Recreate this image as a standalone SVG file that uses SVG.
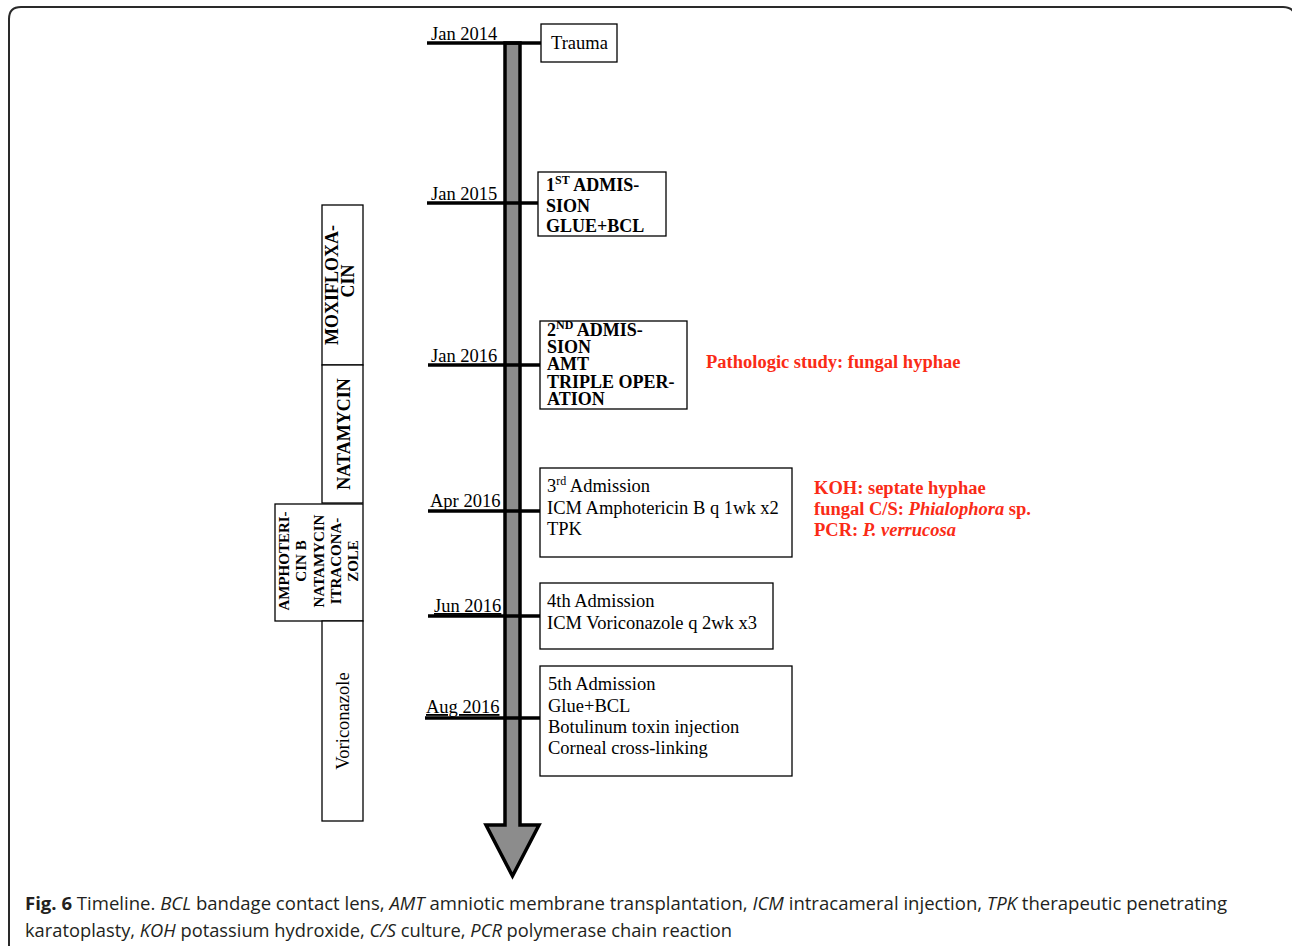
<svg xmlns="http://www.w3.org/2000/svg" width="1292" height="946" viewBox="0 0 1292 946">
<style>
.t{font-family:"Liberation Serif","Times New Roman",serif;font-size:18.5px;fill:#000}
.b{font-weight:bold;font-size:18px}
.r{fill:#fa2b16;font-weight:bold;font-size:18.5px}
.box{fill:#fff;stroke:#000;stroke-width:1.3}
.tick{stroke:#000;stroke-width:3.3;fill:none}
.cap{font-family:"Open Sans","Noto Sans",sans-serif;font-size:18px;fill:#231f20}
</style>
<rect width="1292" height="946" fill="#fff"/>
<path d="M9,946 V19 Q9,7 21,7 H1283 Q1295,7 1295,19 V946" fill="none" stroke="#2a2a2a" stroke-width="2"/>

<g id="connectors">
<polygon points="505,43 520,43 520,825 539,825 512.5,876 486,825 505,825" fill="#8c8c8c" stroke="#000" stroke-width="3.5" stroke-linejoin="miter"/>
<line class="tick" x1="427" y1="43" x2="541" y2="43"/>
<line class="tick" x1="427" y1="203" x2="538" y2="203"/>
<line class="tick" x1="428" y1="365" x2="540" y2="365"/>
<line class="tick" x1="428" y1="511" x2="540" y2="511"/>
<line class="tick" x1="428" y1="616" x2="540" y2="616"/>
<line class="tick" x1="425" y1="718" x2="540" y2="718"/>
</g>

<g id="dates">
<text class="t" x="431" y="40">Jan 2014</text>
<text class="t" x="431" y="200">Jan 2015</text>
<text class="t" x="431" y="362">Jan 2016</text>
<text class="t" x="430" y="507">Apr 2016</text>
<text class="t" x="434" y="612" text-decoration="underline">Jun 2016</text>
<text class="t" x="426" y="713" text-decoration="underline">Aug 2016</text>
</g>

<g id="n-trauma">
<rect class="box" x="541" y="24" width="76" height="38"/>
<text class="t" x="551" y="49">Trauma</text>
</g>

<g id="n-adm1">
<rect class="box" x="538" y="172" width="128" height="64"/>
<text class="t b" x="546" y="191">1<tspan font-size="12" dy="-7">ST</tspan><tspan dy="7"> ADMIS-</tspan></text>
<text class="t b" x="546" y="211.5">SION</text>
<text class="t b" x="546" y="232">GLUE+BCL</text>
</g>

<g id="n-adm2">
<rect class="box" x="540" y="321" width="147" height="88"/>
<text class="t b" x="547" y="336">2<tspan font-size="12" dy="-7">ND</tspan><tspan dy="7"> ADMIS-</tspan></text>
<text class="t b" x="547" y="353">SION</text>
<text class="t b" x="547" y="370">AMT</text>
<text class="t b" x="547" y="387.5">TRIPLE OPER-</text>
<text class="t b" x="547" y="405">ATION</text>
</g>

<g id="n-path">
<text class="t r" x="706" y="368">Pathologic study: fungal hyphae</text>
</g>

<g id="n-adm3">
<rect class="box" x="540" y="468" width="252" height="89"/>
<text class="t" x="547" y="492">3<tspan font-size="12" dy="-7">rd</tspan><tspan dy="7"> Admission</tspan></text>
<text class="t" x="547" y="513.5">ICM Amphotericin B q 1wk x2</text>
<text class="t" x="547" y="535">TPK</text>
</g>

<g id="n-koh">
<text class="t r" x="814" y="494">KOH: septate hyphae</text>
<text class="t r" x="814" y="515">fungal C/S: <tspan font-style="italic">Phialophora</tspan> sp.</text>
<text class="t r" x="814" y="536">PCR: <tspan font-style="italic">P. verrucosa</tspan></text>
</g>

<g id="n-adm4">
<rect class="box" x="540" y="583" width="233" height="66"/>
<text class="t" x="547" y="607">4th Admission</text>
<text class="t" x="547" y="629">ICM Voriconazole q 2wk x3</text>
</g>

<g id="n-adm5">
<rect class="box" x="540" y="666" width="252" height="110"/>
<text class="t" x="548" y="690">5th Admission</text>
<text class="t" x="548" y="711.5">Glue+BCL</text>
<text class="t" x="548" y="732.5">Botulinum toxin injection</text>
<text class="t" x="548" y="753.5">Corneal cross-linking</text>
</g>

<g id="n-moxi">
<rect class="box" x="322" y="205" width="41" height="160"/>
<text class="t b" text-anchor="middle" transform="translate(338,285) rotate(-90)">MOXIFLOXA-</text>
<text class="t b" text-anchor="middle" transform="translate(354,281) rotate(-90)">CIN</text>
</g>

<g id="n-nata">
<rect class="box" x="322" y="365" width="41" height="138"/>
<text class="t b" text-anchor="middle" transform="translate(349.5,434) rotate(-90)">NATAMYCIN</text>
</g>

<g id="n-ampho">
<rect class="box" x="275" y="504" width="88" height="117"/>
<g class="t b" style="font-size:15px" text-anchor="middle">
<text transform="translate(289,561) rotate(-90)">AMPHOTERI-</text>
<text transform="translate(306,561) rotate(-90)">CIN B</text>
<text transform="translate(323.5,561) rotate(-90)">NATAMYCIN</text>
<text transform="translate(341,561) rotate(-90)">ITRACONA-</text>
<text transform="translate(358,561) rotate(-90)">ZOLE</text>
</g>
</g>

<g id="n-vori">
<rect class="box" x="322" y="621" width="41" height="200"/>
<text class="t" text-anchor="middle" transform="translate(349,721) rotate(-90)">Voriconazole</text>
</g>

<g id="caption">
<text class="cap" x="25" y="910" textLength="1202" lengthAdjust="spacingAndGlyphs"><tspan font-weight="bold">Fig. 6</tspan> Timeline. <tspan font-style="italic">BCL</tspan> bandage contact lens, <tspan font-style="italic">AMT</tspan> amniotic membrane transplantation, <tspan font-style="italic">ICM</tspan> intracameral injection, <tspan font-style="italic">TPK</tspan> therapeutic penetrating</text>
<text class="cap" x="25" y="937" textLength="707" lengthAdjust="spacingAndGlyphs">karatoplasty, <tspan font-style="italic">KOH</tspan> potassium hydroxide, <tspan font-style="italic">C/S</tspan> culture, <tspan font-style="italic">PCR</tspan> polymerase chain reaction</text>
</g>
</svg>
